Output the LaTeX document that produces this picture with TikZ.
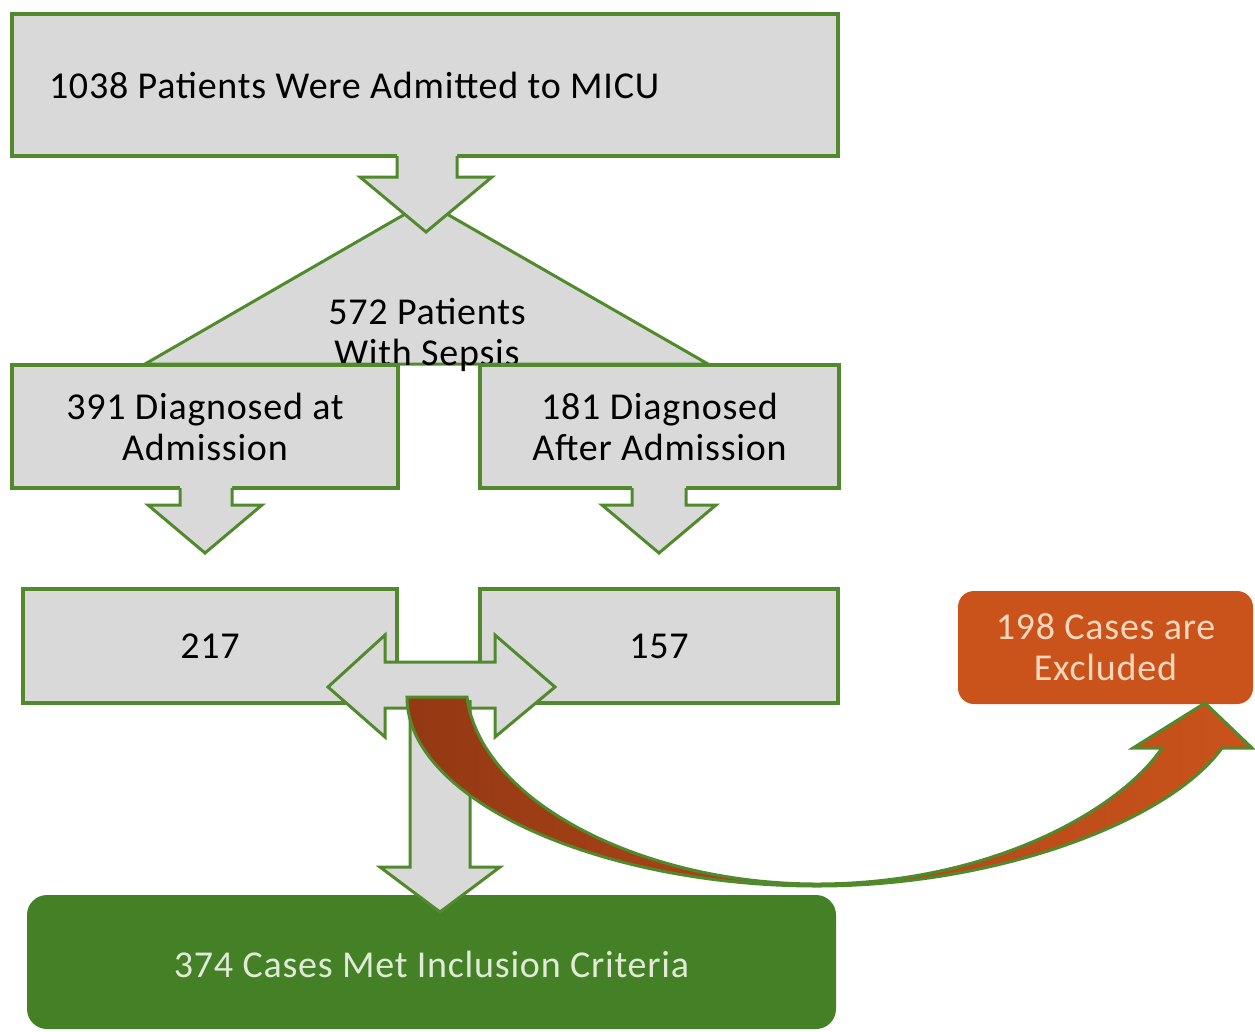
\documentclass[tikz,border=0pt]{standalone}
\usepackage{fontspec}
\setmainfont{Carlito}[LetterSpace=2]
\definecolor{boxgray}{RGB}{217,217,217}
\definecolor{linegreen}{RGB}{80,138,45}
\definecolor{keepgreen}{RGB}{67,128,38}
\definecolor{dropred}{RGB}{202,83,27}
\definecolor{darkdrop}{RGB}{148,57,20}
\definecolor{palegreen}{RGB}{224,234,214}
\definecolor{palepeach}{RGB}{250,214,188}
\tikzstyle{stage}=[rectangle,draw=linegreen,fill=boxgray,line width=3.5pt,align=center,inner sep=0pt]
\tikzstyle{result}=[rectangle,rounded corners=20pt,inner sep=0pt,align=center]
\tikzstyle{fat}=[draw=linegreen,line width=3pt,line join=miter]

\begin{document}
\begin{tikzpicture}[x=1pt,y=-1pt,font=\fontsize{38}{41}\selectfont]
\useasboundingbox (0,0) rectangle (1255,1031);

\node[stage, minimum width=826pt, minimum height=142pt, text width=752pt, align=flush left] (admit) at (425,85) {1038 Patients Were Admitted to MICU};

% sepsis triangle
\draw[fat, fill=boxgray] (145,364) -- (426,202) -- (708,364) -- cycle;
\node[align=center] (sepsis) at (427,335) {572 Patients\\With Sepsis};

\fill[boxgray] (397,150) -- (397,177) -- (360,177) -- (426,232) -- (492,177) -- (457,177) -- (457,150) -- cycle;
\draw[fat] (397,156) -- (397,177) -- (360,177) -- (426,232) -- (492,177) -- (457,177) -- (457,156);

\node[stage, minimum width=386pt, minimum height=123pt] (atadm) at (205,426.5) {391 Diagnosed at\\Admission};
\node[stage, minimum width=359pt, minimum height=123pt] (afteradm) at (659.5,426.5) {181 Diagnosed\\After Admission};

\fill[boxgray] (180,482) -- (180,505) -- (148,505) -- (205,553) -- (262,505) -- (232,505) -- (232,482) -- cycle;
\draw[fat] (180,488) -- (180,505) -- (148,505) -- (205,553) -- (262,505) -- (232,505) -- (232,488);
\fill[boxgray] (632,482) -- (632,505) -- (602,505) -- (659,553) -- (716,505) -- (686,505) -- (686,482) -- cycle;
\draw[fat] (632,488) -- (632,505) -- (602,505) -- (659,553) -- (716,505) -- (686,505) -- (686,488);

\node[stage, minimum width=374pt, minimum height=114pt] (early) at (210,646) {217};
\node[stage, minimum width=358pt, minimum height=114pt] (late) at (659,646) {157};

% both groups
\draw[fat, fill=boxgray] (328,687) -- (385,635) -- (385,662) -- (495,662) -- (495,635) -- (555,687) -- (495,737) -- (495,708) -- (385,708) -- (385,737) -- cycle;

\node[result, fill=keepgreen, text=palegreen, minimum width=809pt, minimum height=134pt, text height=32pt] (kept) at (431.5,962) {374 Cases Met Inclusion Criteria};
\node[result, rounded corners=16pt, fill=dropred, text=palepeach, minimum width=295pt, minimum height=113pt] (dropped) at (1105.5,647.5) {198 Cases are\\Excluded};

\fill[boxgray] (410,700) -- (410,867) -- (380,867) -- (440,912) -- (500,867) -- (470,867) -- (470,700) -- cycle;
\draw[fat] (410,700) -- (410,867) -- (380,867) -- (440,912) -- (500,867) -- (470,867) -- (470,700);

% curved arrow to the excluded cases
\draw[fat, left color=darkdrop, right color=dropred] (407,697) .. controls (407,800) and (600,886) .. (817,886) .. controls (1000,886) and (1170,820) .. (1222,748) -- (1252,748) -- (1205,703) -- (1133,748) -- (1162,748) .. controls (1120,810) and (990,884) .. (817,884) .. controls (640,884) and (480,800) .. (467,697) -- cycle;

\end{tikzpicture}
\end{document}
